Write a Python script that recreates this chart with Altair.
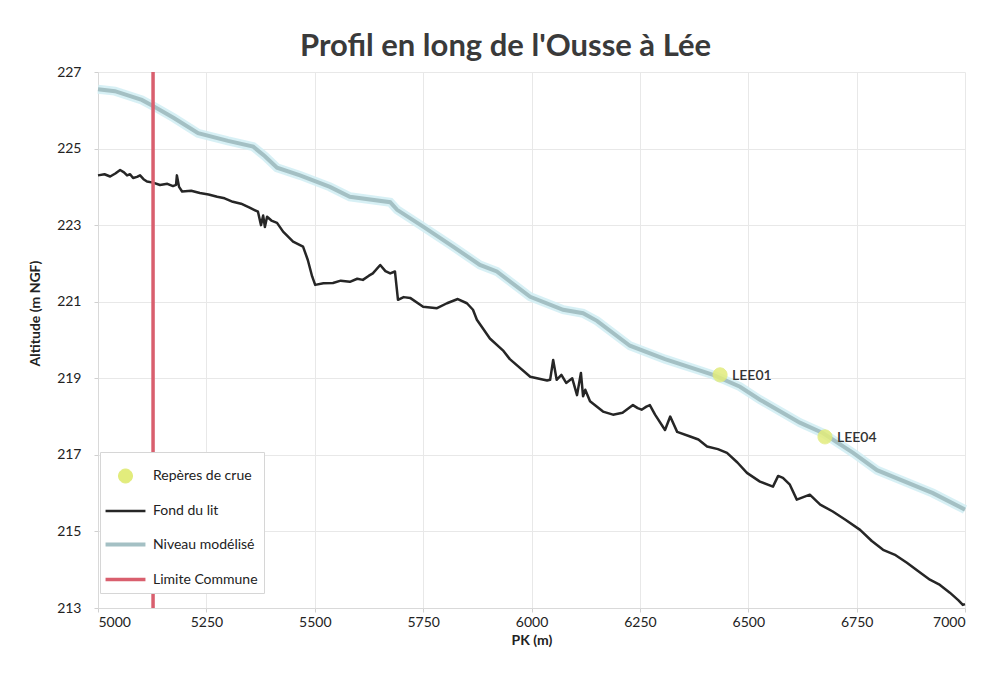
import altair as alt
import pandas as pd

# --- data -------------------------------------------------------------------
niveau_pk = [5000, 5039, 5101, 5129, 5175, 5231, 5300, 5358, 5385, 5413, 5466,
             5535, 5581, 5674, 5690, 5750, 5819, 5881, 5920, 5997, 6073, 6119,
             6151, 6227, 6308, 6419, 6481, 6527, 6619, 6672, 6742, 6797, 6926, 7000]
niveau_alt = [226.55, 226.5, 226.27, 226.1, 225.8, 225.4, 225.2, 225.05, 224.8, 224.5, 224.3,
              224.0, 223.74, 223.6, 223.4, 222.96, 222.44, 221.96, 221.79, 221.13, 220.79, 220.7,
              220.5, 219.85, 219.5, 219.09, 218.78, 218.44, 217.84, 217.57, 217.05, 216.6, 216.0, 215.57]

fond_pk = [5000, 5015, 5028, 5040, 5051, 5060, 5067, 5074, 5081, 5090, 5097, 5105, 5113, 5127,
           5143, 5160, 5173, 5180, 5182, 5187, 5194, 5215, 5235, 5255, 5275, 5292, 5311, 5330,
           5351, 5369, 5376, 5381, 5385, 5390, 5400, 5413, 5427, 5450, 5473, 5484,
           5494, 5501, 5520, 5542, 5560, 5581, 5598, 5611, 5625, 5634, 5651, 5663, 5674, 5685,
           5692, 5705, 5720, 5750, 5782, 5805, 5830, 5851, 5865, 5874, 5904, 5934, 5950, 5997,
           6036, 6043, 6050, 6058, 6069, 6080, 6094, 6105, 6114, 6119, 6124, 6135, 6165, 6188,
           6210, 6234, 6245, 6254, 6265, 6273, 6285, 6308, 6320, 6336, 6366, 6385, 6405, 6430,
           6451, 6475, 6497, 6527, 6557, 6569, 6580, 6596, 6612, 6642, 6666, 6695, 6725, 6758,
           6785, 6811, 6840, 6866, 6890, 6919, 6940, 6965, 6985, 6995, 7000]
fond_alt = [224.3, 224.33, 224.27, 224.35, 224.44, 224.38, 224.3, 224.33, 224.23, 224.26, 224.3,
            224.2, 224.14, 224.11, 224.05, 224.08, 224.02, 224.05, 224.3, 224.0, 223.88, 223.9,
            223.84, 223.8, 223.74, 223.7, 223.61, 223.56, 223.45, 223.35, 223.0, 223.25, 222.95,
            223.22, 223.12, 223.06, 222.83, 222.57, 222.44, 222.09, 221.66, 221.44, 221.48, 221.49,
            221.55, 221.52, 221.6, 221.57, 221.68, 221.74, 221.96, 221.8, 221.74, 221.79, 221.05,
            221.12, 221.1, 220.87, 220.83, 220.96, 221.07, 220.96, 220.79, 220.53, 220.04, 219.73,
            219.5, 219.04, 218.94, 218.96, 219.48, 218.96, 219.09, 218.88, 219.0, 218.56, 219.14,
            218.53, 218.7, 218.4, 218.13, 218.05, 218.1, 218.3, 218.22, 218.18, 218.26, 218.3,
            218.05, 217.65, 218.0, 217.6, 217.48, 217.4, 217.22, 217.15, 217.05, 216.8, 216.53,
            216.3, 216.17, 216.45, 216.4, 216.22, 215.83, 215.96, 215.7, 215.52, 215.3, 215.04,
            214.75, 214.52, 214.38, 214.18, 213.98, 213.74, 213.62, 213.4, 213.2, 213.08, 213.1]

limite_pk = [5127, 5127]
limite_alt = [213, 227]

reperes_nom = ["LEE01", "LEE04"]
reperes_pk = [6435, 6677]
reperes_alt = [219.09, 217.47]

series_names = ["Repères de crue", "Fond du lit", "Niveau modélisé", "Limite Commune"]
series_colors = ["#e2ec7c", "#262626", "#a4c0c4", "#d95f6e"]
series_widths = [1, 2.5, 4, 3.5]
series_shapes = ["M-0.4,0A0.4,0.4 0 1,1 0.4,0A0.4,0.4 0 1,1 -0.4,0Z",
                 "M-1.14,0L1.14,0", "M-1.14,0L1.14,0", "M-1.14,0L1.14,0"]

x_ticks = [5000, 5250, 5500, 5750, 6000, 6250, 6500, 6750, 7000]
y_ticks = [213, 215, 217, 219, 221, 223, 225, 227]

# --- tables ---------------------------------------------------------------
niveau = pd.DataFrame({"pk": niveau_pk, "alt": niveau_alt, "series": series_names[2]})
fond = pd.DataFrame({"pk": fond_pk, "alt": fond_alt, "series": series_names[1]})
limite = pd.DataFrame({"pk": limite_pk, "alt": limite_alt, "series": series_names[3]})
reperes = pd.DataFrame({"pk": reperes_pk, "alt": reperes_alt, "nom": reperes_nom,
                        "series": series_names[0]})

FONT = "Lato"

x = alt.X("pk:Q", title="PK (m)",
          scale=alt.Scale(domain=[5000, 7000], nice=False, zero=False),
          axis=alt.Axis(values=x_ticks, format="d"))
y = alt.Y("alt:Q", title="Altitude (m NGF)",
          scale=alt.Scale(domain=[213, 227], nice=False, zero=False),
          axis=alt.Axis(values=y_ticks, format="d", titleX=-56, titleY=241))

stroke_scale = alt.Scale(domain=series_names, range=series_colors)
width_scale = alt.Scale(type="ordinal", domain=series_names, range=series_widths)
shape_scale = alt.Scale(domain=series_names, range=series_shapes)

stroke_enc = alt.Stroke("series:N", scale=stroke_scale, title=None)
width_enc = alt.StrokeWidth("series:N", scale=width_scale, title=None)

halo = alt.Chart(niveau).mark_line(color="#d3eef4", strokeWidth=9, opacity=0.9).encode(
    x=x, y=y, order="pk:Q")

niveau_line = alt.Chart(niveau).mark_line().encode(
    x=x, y=y, stroke=stroke_enc, strokeWidth=width_enc, order="pk:Q")

fond_line = alt.Chart(fond).mark_line(strokeJoin="round").encode(
    x=x, y=y, stroke=stroke_enc, strokeWidth=width_enc, order="pk:Q")

limite_line = alt.Chart(limite).mark_line().encode(
    x=x, y=y, stroke=stroke_enc, strokeWidth=width_enc, order="alt:Q")

points = alt.Chart(reperes).mark_point(filled=True, size=1225, opacity=0.85).encode(
    x=x, y=y,
    fill=alt.Fill("series:N", scale=stroke_scale, title=None),
    stroke=stroke_enc,
    strokeWidth=width_enc,
    shape=alt.Shape("series:N", scale=shape_scale, title=None),
)

labels = alt.Chart(reperes).mark_text(
    align="left", baseline="middle", dx=12, dy=1, font=FONT, fontSize=14,
    fontWeight=600, color="#333333").encode(x=x, y=y, text="nom:N")

chart = alt.layer(halo, niveau_line, fond_line, limite_line, points, labels).properties(
    width=867, height=536,
    autosize=alt.AutoSizeParams(type="none"),
    padding={"left": 90, "top": 64, "right": 13, "bottom": 61},
    title=alt.TitleParams("Profil en long de l'Ousse à Lée", font=FONT, fontSize=31,
                          fontWeight="bold", color="#3a3a3a", dx=-26, offset=2),
).configure_view(stroke=None).configure_axis(
    labelFont=FONT, labelFontSize=14, labelColor="#222222",
    titleFont=FONT, titleFontSize=14, titleFontWeight="bold", titleColor="#222222",
    gridColor="#e8e8e8", gridWidth=1, domainColor="#d9d9d9", tickColor="#d0d0d0",
    tickSize=4,
).configure_axisY(labelPadding=13).configure_axisX(labelPadding=3, titlePadding=4).configure_legend(
    orient="none", legendX=2, legendY=380, fillColor="white", strokeColor="#d6d6d6",
    padding=6, symbolSize=1225, labelFont=FONT, labelFontSize=14, labelColor="#222222",
    labelOffset=8, rowPadding=7, symbolOpacity=1,
)

chart.save("out.html", embed_options={"renderer": "svg", "actions": False})
